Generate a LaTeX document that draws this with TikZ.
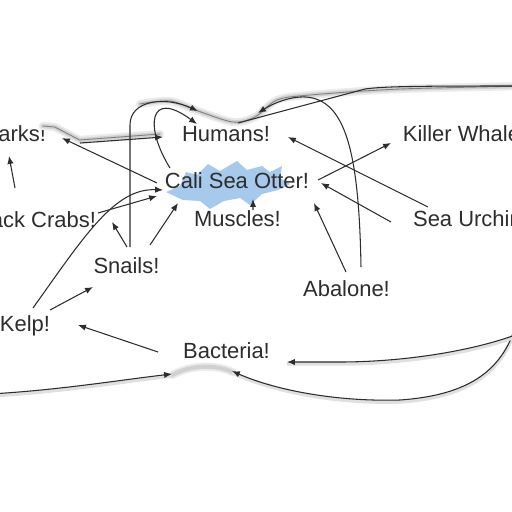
\documentclass[tikz,border=0pt]{standalone}
\usepackage{fontspec}
\setmainfont{Liberation Sans}
\usetikzlibrary{arrows.meta,calc}
\definecolor{otterblue}{RGB}{166,201,236}
\definecolor{ink}{RGB}{45,45,45}
\begin{document}
\begin{tikzpicture}[x=0.02cm,y=-0.02cm,
  lab/.style={inner sep=0pt,text height=0.72em,text depth=0pt,text=ink,font=\fontsize{12.5pt}{15pt}\selectfont},
  link/.style={draw=ink,line width=0.6pt},
  arr/.style={link,-{Latex[length=4.5pt,width=3.6pt]}},
  glow/.style={draw=black!8,line width=4.6pt,line cap=round,line join=round,
    postaction={draw=black!18,line width=2.4pt}},
  glowcore/.style={draw=black!50,line width=0.5pt},
  shadowed/.style={preaction={draw=black!12,line width=2.2pt,-,transform canvas={yshift=-1pt}}}]
\useasboundingbox (0,0) rectangle (512,512);
\clip (0,0) rectangle (512,512);
\fill[white] (0,0) rectangle (512,512);

% otter blob
\fill[otterblue] (166,192) -- (180,186) -- (186,172) -- (197,175) -- (208,164) -- (220,171)
  -- (237,161) -- (247,170) -- (262,166) -- (270,172) -- (282,166) -- (280,178) -- (290,184)
  -- (278,190) -- (262,194) -- (250,205) -- (240,198) -- (224,201) -- (210,209) -- (200,201)
  -- (183,200) -- cycle;

% nodes
\node[lab] (Sh) at (8.7,135) {Sharks!};
\node[lab] (Hu) at (226,135) {Humans!};
\node[lab] (KW) at (470,135) {Killer Whales!};
\node[lab] (Ot) at (237,182) {Cali Sea Otter!};
\node[lab] (BC) at (33.7,221) {Black Crabs!};
\node[lab] (Mu) at (237.5,220) {Muscles!};
\node[lab] (SU) at (476,220) {Sea Urchins!};
\node[lab] (Sn) at (126.5,267) {Snails!};
\node[lab] (Ab) at (346.5,290) {Abalone!};
\node[lab] (Ke) at (25,325) {Kelp!};
\node[lab] (Ba) at (226.5,352) {Bacteria!};

% off-canvas ends
\coordinate (topR) at (530,86);
\coordinate (topM) at (365,89);
\coordinate (botL) at (-10,394);
\coordinate (botR1) at (518,318);
\coordinate (botR2) at (518,334);

% glow paths
\draw[glow] plot[smooth] coordinates {(140,104) (170,101) (198,111) (233,122) (255,117) (277,100) (310,95) (400,89) (530,86)};
\draw[glowcore] plot[smooth] coordinates {(140,104) (170,101) (198,111) (233,122) (255,117) (277,100) (310,95) (400,89) (530,86)};
\draw[glow] ([shift={(34,-9)}]Sh.center) -- ([shift={(46,-8)}]Sh.center) -- ([shift={(71,5)}]Sh.center) -- ([shift={(-66,-1)}]Hu.center);
\draw[glowcore] ([shift={(34,-9)}]Sh.center) -- ([shift={(46,-8)}]Sh.center) -- ([shift={(71,5)}]Sh.center) -- ([shift={(-66,-1)}]Hu.center);
\draw[glow] ([shift={(-54,23)}]Ba.center) .. controls (190,365) and (215,364) .. ([shift={(6,20)}]Ba.center);

% connectors
\draw[arr] ([shift={(-80,1)}]Ot.center) -- ([shift={(53.3,3)}]Sh.center);
\draw[arr] ([shift={(71.3,8)}]Sh.center) -- ([shift={(-63,2)}]Hu.center);
\draw[arr] ([shift={(-18.7,-33)}]BC.center) -- ([shift={(0.3,21)}]Sh.center);
\draw[arr] ([shift={(64.3,-8)}]BC.center) -- ([shift={(-80,14)}]Ot.center);
\draw[arr] ([shift={(8,-17)}]Ke.center) .. controls (85,235) and (115,188) .. ([shift={(-74,8)}]Ot.center);
\draw[arr] ([shift={(0.5,-20)}]Sn.center) -- ([shift={(78.3,1)}]BC.center);
\draw[arr] ([shift={(23.5,-22)}]Sn.center) -- ([shift={(-59,21)}]Ot.center);
\draw[arr] ([shift={(3.5,-20)}]Sn.center) -- (130,125) .. controls (130,100) and (165,96) .. ([shift={(-28,-24)}]Hu.center);
\draw[arr] ([shift={(-67,-14)}]Ot.center) .. controls (145,128) and (148,88) .. ([shift={(-29,-11)}]Hu.center);
\draw[arr] ([shift={(15.5,-10)}]Mu.center) -- ([shift={(16,17)}]Ot.center);
\draw[arr] ([shift={(-48,-13)}]SU.center) -- ([shift={(62,2)}]Hu.center);
\draw[arr] ([shift={(-85,2)}]SU.center) -- ([shift={(84,1)}]Ot.center);
\draw[arr] ([shift={(81,-2)}]Ot.center) -- ([shift={(-79,8)}]KW.center);
\draw[arr] ([shift={(-0.5,-18)}]Ab.center) -- ([shift={(77,21)}]Ot.center);
\draw[arr] ([shift={(14.5,-23)}]Ab.center) .. controls (359,150) and (345,100) .. (306,97) .. controls (290,96) and (272,104) .. ([shift={(32,-22)}]Hu.center);
\draw[link] (topR) .. controls (430,86) and (385,86) .. (topM) -- ([shift={(12,-12)}]Hu.center);
\draw[arr] ([shift={(-68.5,0)}]Ba.center) -- ([shift={(53,0)}]Ke.center);
\draw[arr] ([shift={(25,-15)}]Ke.center) -- ([shift={(-33.5,20)}]Sn.center);

% bottom loop
\draw[arr,shadowed] (botL) .. controls (60,390) and (120,380) .. ([shift={(-54.5,22)}]Ba.center);
\draw[arr,shadowed] (botR1) .. controls (505,370) and (470,395) .. (400,400) .. controls (330,402) and (270,388) .. ([shift={(5.5,19)}]Ba.center);
\draw[arr,shadowed] (botR2) .. controls (470,352) and (400,362) .. (340,362) -- ([shift={(60.5,10)}]Ba.center);
\end{tikzpicture}
\end{document}
